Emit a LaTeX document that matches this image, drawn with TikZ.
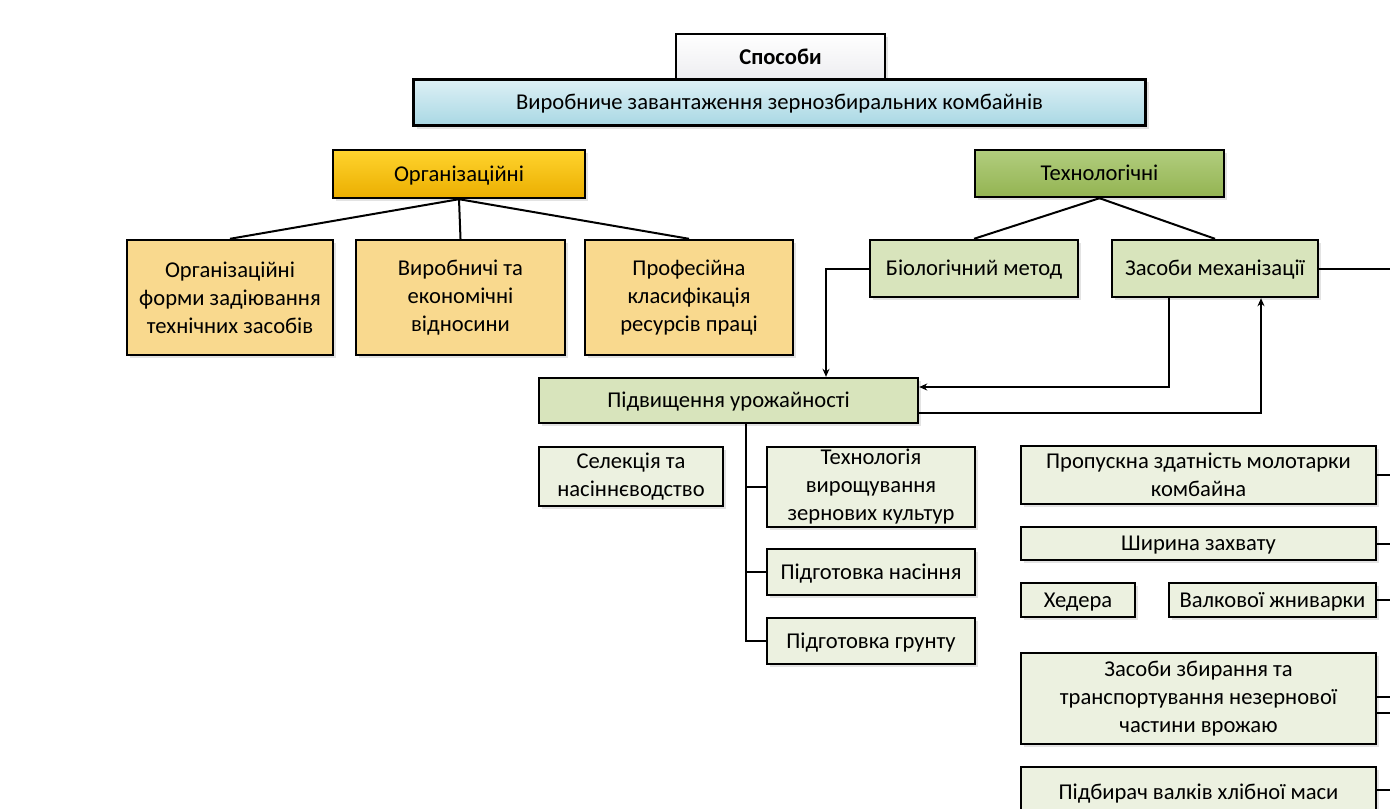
\documentclass[tikz,border=0pt]{standalone}
\usepackage{fontspec}
\setmainfont{Carlito}
\usetikzlibrary{arrows.meta,shadows}
\definecolor{bluetop}{HTML}{DDF0F5}
\definecolor{bluebot}{HTML}{A9D8E4}
\definecolor{goldtop}{HTML}{FFD42E}
\definecolor{goldbot}{HTML}{EBAE00}
\definecolor{greentop}{HTML}{B2CD7E}
\definecolor{greenbot}{HTML}{93B452}
\definecolor{lightgold}{HTML}{F9D98E}
\definecolor{olive}{HTML}{D8E4BC}
\definecolor{paleolive}{HTML}{ECF1E0}
\definecolor{sposgray}{HTML}{EDEDF0}
\begin{document}
\begin{tikzpicture}[x=0.5pt,y=-0.5pt,
  every node/.style={font=\fontsize{11.3}{14}\selectfont},
  bx/.style={draw=black, line width=1.2pt, inner sep=0pt, align=center,
    drop shadow={opacity=0.22, shadow xshift=1.5pt, shadow yshift=-1.5pt}},
  one/.style={text height=2ex, text depth=0.5ex},
  ln/.style={draw=black, line width=1pt},
  arr/.style={ln, -{Stealth[length=4pt,width=3.5pt]}}]
\useasboundingbox (0,0) rectangle (1390,808);
\coordinate (edge) at (1392,0);

% top
\node[bx, one, top color=white, bottom color=sposgray, minimum width=104.5pt, minimum height=23pt] (spos) at (780.5,57) {\textbf{Способи}};
\node[bx, one, top color=bluetop, bottom color=bluebot, minimum width=366pt, minimum height=23pt] (main) at (779.5,102.5) {Виробниче завантаження зернозбиральних комбайнів};

% second level
\node[bx, one, top color=goldtop, bottom color=goldbot, minimum width=126pt, minimum height=24pt] (org) at (459,174) {Організаційні};
\node[bx, one, top color=greentop, bottom color=greenbot, minimum width=124.5pt, minimum height=23.5pt] (tech) at (1099.5,173.5) {Технологічні};

% organisational children
\node[bx, fill=lightgold, minimum width=103pt, minimum height=57.5pt] (orgA) at (230,297.5) {Організаційні\\форми задіювання\\технічних засобів};
\node[bx, fill=lightgold, minimum width=104.5pt, minimum height=57.5pt] (orgB) at (460.5,297.5) {Виробничі та\\економічні\\відносини};
\node[bx, fill=lightgold, minimum width=104pt, minimum height=57.5pt] (orgC) at (689,297.5) {Професійна\\класифікація\\ресурсів праці};

% technological children
\node[bx, one, fill=olive, minimum width=104pt, minimum height=28.5pt] (bio) at (974,268.5) {Біологічний метод};
\node[bx, one, fill=olive, minimum width=103pt, minimum height=28.5pt] (mech) at (1215,268.5) {Засоби механізації};

% yield
\node[bx, one, fill=olive, minimum width=189.5pt, minimum height=22.5pt] (pidv) at (728.5,400.5) {Підвищення урожайності};
\node[bx, fill=paleolive, minimum width=92pt, minimum height=29.5pt] (sel) at (631,476.5) {Селекція та\\насіннєводство};
\node[bx, fill=paleolive, minimum width=104pt, minimum height=40pt] (techn) at (871,487) {Технологія\\вирощування\\зернових культур};
\node[bx, one, fill=paleolive, minimum width=104pt, minimum height=23pt] (pidnas) at (871,572) {Підготовка насіння};
\node[bx, one, fill=paleolive, minimum width=104pt, minimum height=23pt] (pidgr) at (871,641) {Підготовка грунту};

% mechanisation means
\node[bx, fill=paleolive, minimum width=177.5pt, minimum height=29pt] (prop) at (1198.5,475) {Пропускна здатність молотарки\\комбайна};
\node[bx, one, fill=paleolive, minimum width=177.5pt, minimum height=16.5pt] (shyr) at (1198.5,543.5) {Ширина захвату};
\node[bx, one, fill=paleolive, minimum width=57pt, minimum height=17pt] (hed) at (1078,600) {Хедера};
\node[bx, one, fill=paleolive, minimum width=103.5pt, minimum height=17pt] (valk) at (1272.5,600) {Валкової жниварки};
\node[bx, fill=paleolive, minimum width=177.5pt, minimum height=45.5pt] (zas) at (1198.5,698.5) {Засоби збирання та\\транспортування незернової\\частини врожаю};
\node[bx, one, fill=paleolive, minimum width=177.5pt, minimum height=25pt] (pidb) at (1198.5,792) {Підбирач валків хлібної маси};

% connectors
\draw[ln] (org.south) -- (orgA.north);
\draw[ln] (org.south) -- (orgB.north);
\draw[ln] (org.south) -- (orgC.north);
\draw[ln] (tech.south) -- (bio.north);
\draw[ln] (tech.south) -- (mech.north);

\draw[arr] (bio.west) -| ([xshift=48.75pt]pidv.north);
\draw[arr] ([xshift=-23pt]mech.south) |- ([yshift=6.75pt]pidv.east);
\draw[arr] ([yshift=-6.25pt]pidv.east) -| ([xshift=23pt]mech.south);
\draw[ln] (mech.east) -- (mech.east -| edge);

\coordinate (trunk) at ([xshift=8.75pt]pidv.south);
\draw[ln] (trunk) |- (pidgr.west);
\draw[ln] (trunk |- techn.west) -- (techn.west);
\draw[ln] (trunk |- pidnas.west) -- (pidnas.west);

\draw[ln] (prop.east) -- (prop.east -| edge);
\draw[ln] (shyr.east) -- (shyr.east -| edge);
\draw[ln] (valk.east) -- (valk.east -| edge);
\draw[ln] ([yshift=1pt]zas.east) -- ([yshift=1pt]zas.east -| edge);
\draw[ln] ([yshift=-7pt]zas.east) -- ([yshift=-7pt]zas.east -| edge);
\draw[ln] ([yshift=1pt]pidb.east) -- ([yshift=1pt]pidb.east -| edge);
\end{tikzpicture}
\end{document}
